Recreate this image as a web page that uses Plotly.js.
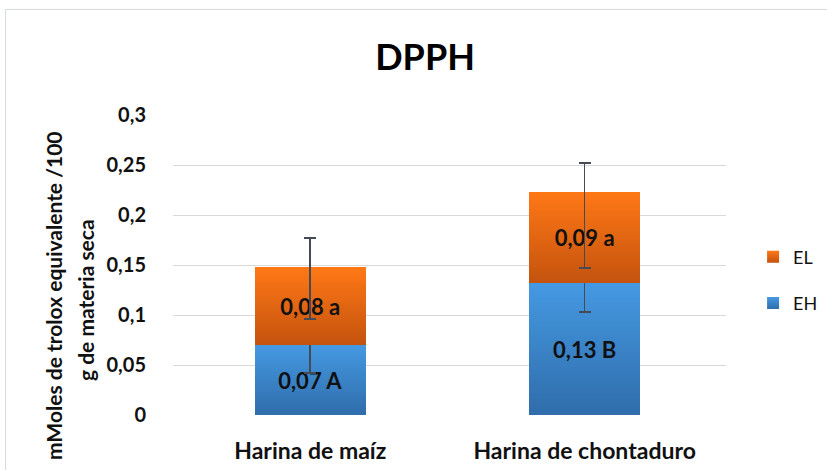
<!DOCTYPE html>
<html><head><meta charset="utf-8">
<script src="https://cdn.plot.ly/plotly-3.0.1.min.js"></script>
<style>html,body{margin:0;padding:0;background:#fff}#chart{width:827px;height:470px}</style>
</head><body><div id="chart"></div>
<script>
const categories = ['Harina de maíz', 'Harina de chontaduro'];
const ehValues = [0.070, 0.132];
const elValues = [0.078, 0.091];
const ehLabels = ['0,07 A', '0,13 B'];
const elLabels = ['0,08 a', '0,09 a'];
const ehErrPlus = [0.014, 0.015];
const ehErrMinus = [0.028, 0.029];
const elErrPlus = [0.029, 0.029];
const elErrMinus = [0.052, 0.076];
const yTickVals = [0, 0.05, 0.1, 0.15, 0.2, 0.25, 0.3];
const yTickText = ['0', '0,05', '0,1', '0,15', '0,2', '0,25', '0,3'];
const yTitleLines = ['mMoles de trolox equivalente /100', 'g de materia seca'];
const chartTitle = 'DPPH';

const FONT = 'Lato, "Open Sans", sans-serif';
const errStyle = {color: '#444b57', thickness: 1.6, width: 6};

const traces = [
  {
    type: 'bar', name: 'EH', x: categories, y: ehValues,
    text: ehLabels, textposition: 'inside', insidetextanchor: 'middle',
    textfont: {family: FONT, size: 22, color: '#111', weight: 'bold'},
    marker: {color: '#3b86d0'},
    error_y: Object.assign({type: 'data', symmetric: false, array: ehErrPlus, arrayminus: ehErrMinus}, errStyle),
    legendgroup: 'eh', legendrank: 2, cliponaxis: false
  },
  {
    type: 'bar', name: 'EL', x: categories, y: elValues,
    text: elLabels, textposition: 'inside', insidetextanchor: 'middle',
    textfont: {family: FONT, size: 22, color: '#111', weight: 'bold'},
    marker: {color: '#e56a12'},
    error_y: Object.assign({type: 'data', symmetric: false, array: elErrPlus, arrayminus: elErrMinus}, errStyle),
    legendgroup: 'el', legendrank: 1, cliponaxis: false
  }
];

const layout = {
  width: 827, height: 470,
  margin: {l: 173, r: 101, t: 115, b: 55, autoexpand: false},
  paper_bgcolor: '#fff', plot_bgcolor: '#fff',
  barmode: 'stack', bargap: 0.595,
  uniformtext: {mode: false},
  title: {text: '<b>' + chartTitle + '</b>', font: {family: FONT, size: 36, color: '#000'},
          x: 0.514, xanchor: 'center', y: 0.878, yanchor: 'middle'},
  xaxis: {
    range: [-0.5, 1.515], showgrid: false, zeroline: false, showline: false, automargin: false,
    ticks: 'outside', ticklen: 15, tickcolor: 'rgba(0,0,0,0)',
    tickfont: {family: FONT, size: 23, color: '#111', weight: 'bold'}
  },
  yaxis: {
    range: [0, 0.3], tickvals: yTickVals, ticktext: yTickText, automargin: false,
    showgrid: true, gridcolor: '#d9d9d9', gridwidth: 1, zeroline: false, showline: false,
    ticks: 'outside', ticklen: 22, tickcolor: 'rgba(0,0,0,0)',
    tickfont: {family: FONT, size: 20, color: '#111', weight: 'bold'}
  },
  showlegend: true,
  legend: {
    x: 1.049, xanchor: 'left', y: 0.45, yanchor: 'middle',
    traceorder: 'grouped', tracegroupgap: 20,
    font: {family: FONT, size: 18, color: '#111'}, itemwidth: 30
  },
  annotations: [
    {xref: 'paper', yref: 'paper', x: (53 - 173) / 553, y: (415 - 296) / 300, xanchor: 'center', yanchor: 'middle',
     textangle: -90, showarrow: false, text: '<b>' + yTitleLines[0] + '</b>',
     font: {family: FONT, size: 21, color: '#111'}},
    {xref: 'paper', yref: 'paper', x: (85 - 173) / 553, y: (415 - 300) / 300, xanchor: 'center', yanchor: 'middle',
     textangle: -90, showarrow: false, text: '<b>' + yTitleLines[1] + '</b>',
     font: {family: FONT, size: 21, color: '#111'}}
  ],
  shapes: [
    {type: 'rect', xref: 'paper', yref: 'paper', x0: (5.5 - 173) / 553, x1: 1.4, y0: -0.4, y1: (415 - 9.5) / 300,
     line: {color: '#d6dbe2', width: 1}, fillcolor: 'rgba(0,0,0,0)', layer: 'below'}
  ]
};

Plotly.newPlot('chart', traces, layout, {staticPlot: true, displayModeBar: false}).then(function (gd) {
  const svg = gd.querySelector('svg.main-svg');
  const ns = 'http://www.w3.org/2000/svg';
  let defs = svg.querySelector('defs');
  if (!defs) { defs = document.createElementNS(ns, 'defs'); svg.insertBefore(defs, svg.firstChild); }
  function grad(id, top, bottom) {
    const g = document.createElementNS(ns, 'linearGradient');
    g.setAttribute('id', id); g.setAttribute('x1', '0'); g.setAttribute('y1', '0'); g.setAttribute('x2', '0'); g.setAttribute('y2', '1');
    [[0, top], [1, bottom]].forEach(function (s) {
      const st = document.createElementNS(ns, 'stop');
      st.setAttribute('offset', s[0]); st.setAttribute('stop-color', s[1]);
      g.appendChild(st);
    });
    defs.appendChild(g);
  }
  grad('gEH', '#4599e2', '#2f6dab');
  grad('gEL', '#ff7816', '#c4530e');
  const ids = ['gEH', 'gEL'];
  gd.querySelectorAll('.barlayer .trace').forEach(function (t, i) {
    t.querySelectorAll('.point path').forEach(function (p) { p.style.fill = 'url(#' + ids[i] + ')'; });
  });
  gd.querySelectorAll('.legend .traces').forEach(function (t) {
    const name = t.textContent.trim();
    t.querySelectorAll('.legendpoints path').forEach(function (p) { p.style.fill = 'url(#' + (name === 'EH' ? 'gEH' : 'gEL') + ')'; });
  });
});
</script>
</body></html>
